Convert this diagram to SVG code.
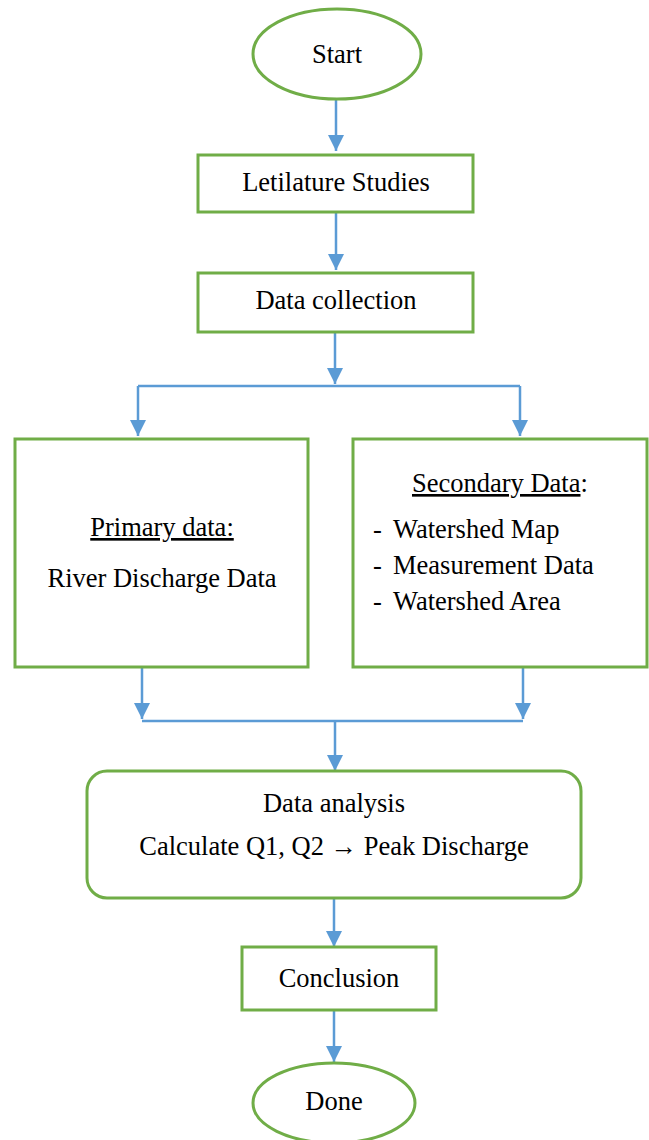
<svg xmlns="http://www.w3.org/2000/svg" width="649" height="1140" viewBox="0 0 649 1140">
<defs>
<style>
.n{fill:#fff;stroke:#70AD47;stroke-width:3}
.c{fill:none;stroke:#5B9BD5;stroke-width:2.5}
.t{font-family:"Liberation Serif","Times New Roman",serif;font-size:26.5px;fill:#000}
.m{text-anchor:middle}
</style>
<marker id="ah" viewBox="0 0 10 10" refX="10" refY="5" markerWidth="6.5" markerHeight="6.5" markerUnits="strokeWidth" orient="auto">
<path d="M0,0 L10,5 L0,10 z" fill="#5B9BD5"/>
</marker>
</defs>
<rect width="649" height="1140" fill="#fff"/>
<g id="connectors">
<path class="c" d="M336,99 V151" marker-end="url(#ah)"/>
<path class="c" d="M336,212 V270" marker-end="url(#ah)"/>
<path class="c" d="M335,333 V384" marker-end="url(#ah)"/>
<path class="c" d="M138,386 H520"/>
<path class="c" d="M138,386 V436" marker-end="url(#ah)"/>
<path class="c" d="M520,386 V436" marker-end="url(#ah)"/>
<path class="c" d="M142,668 V719" marker-end="url(#ah)"/>
<path class="c" d="M523,668 V719" marker-end="url(#ah)"/>
<path class="c" d="M142,721 H523"/>
<path class="c" d="M335,721 V771" marker-end="url(#ah)"/>
<path class="c" d="M334,898 V947" marker-end="url(#ah)"/>
<path class="c" d="M334,1010 V1062" marker-end="url(#ah)"/>
</g>
<g id="start">
<ellipse class="n" cx="337" cy="54" rx="84" ry="45"/>
<text class="t m" x="337" y="63">Start</text>
</g>
<g id="literature">
<rect class="n" x="198" y="155" width="275" height="57"/>
<text class="t m" x="336" y="191">Letilature Studies</text>
</g>
<g id="collection">
<rect class="n" x="198" y="273" width="275" height="59"/>
<text class="t m" x="336" y="309">Data collection</text>
</g>
<g id="primary">
<rect class="n" x="15" y="439" width="293" height="228"/>
<text class="t m" x="162" y="536" text-decoration="underline">Primary data:</text>
<text class="t m" x="162" y="587">River Discharge Data</text>
</g>
<g id="secondary">
<rect class="n" x="353" y="439" width="294" height="228"/>
<text class="t" x="412" y="492"><tspan text-decoration="underline">Secondary Data</tspan>:</text>
<text class="t" x="373" y="538">-</text><text class="t" x="393" y="538">Watershed Map</text>
<text class="t" x="373" y="574">-</text><text class="t" x="393" y="574">Measurement Data</text>
<text class="t" x="373" y="610">-</text><text class="t" x="393" y="610">Watershed Area</text>
</g>
<g id="analysis">
<rect class="n" x="87" y="771" width="494" height="127" rx="20" ry="20"/>
<text class="t m" x="334" y="812">Data analysis</text>
<text class="t m" x="334" y="855">Calculate Q1, Q2 → Peak Discharge</text>
</g>
<g id="conclusion">
<rect class="n" x="242" y="947" width="194" height="63"/>
<text class="t m" x="339" y="987">Conclusion</text>
</g>
<g id="done">
<ellipse class="n" cx="334" cy="1103" rx="81" ry="40"/>
<text class="t m" x="334" y="1110">Done</text>
</g>
</svg>
